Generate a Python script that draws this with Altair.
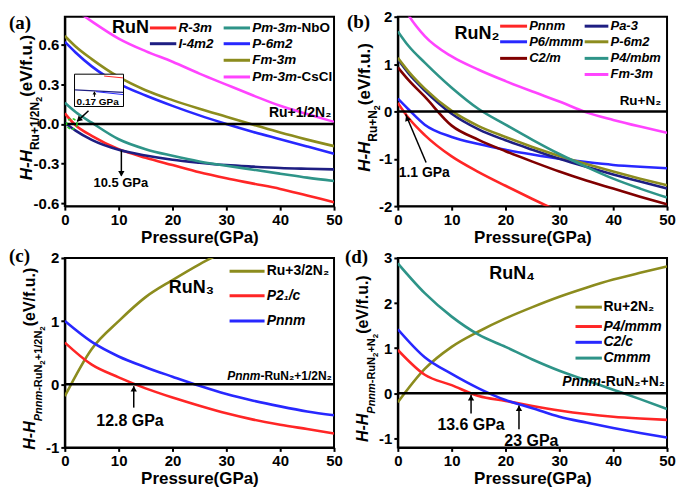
import altair as alt
import pandas as pd

FONT = "Liberation Sans"
SERIF = "Liberation Serif"
W, H = 270, 190
PXU = W / 50.0

RED = "#ff2626"
NAVY = "#1e1e82"
TEAL = "#2e9488"
BLUE = "#2828ff"
OLIVE = "#8c8c1e"
MAGENTA = "#ff44ff"
MAROON = "#800000"

# ---------------- data ----------------
pressure_ab = [0, 2, 5, 10, 15, 20, 25, 30, 35, 40, 45, 50]
pressure_cd = [0, 5, 10, 15, 20, 25, 30, 35, 40, 45, 50]

# (a) RuN
a_series = ["R-3m", "I-4m2", "Pm-3m-NbO", "P-6m2", "Fm-3m", "Pm-3m-CsCl"]
a_colors = [RED, NAVY, TEAL, BLUE, OLIVE, MAGENTA]
a_R3m = [0.08, -0.01, -0.09, -0.19, -0.255, -0.31, -0.365, -0.41, -0.45, -0.49, -0.54, -0.59]
a_I4m2 = [0.01, -0.05, -0.12, -0.195, -0.238, -0.27, -0.292, -0.31, -0.322, -0.332, -0.338, -0.343]
a_NbO = [0.16, 0.09, 0.01, -0.115, -0.19, -0.24, -0.283, -0.315, -0.345, -0.375, -0.405, -0.43]
a_P6m2 = [0.62, 0.54, 0.435, 0.305, 0.215, 0.137, 0.065, 0.0, -0.06, -0.115, -0.17, -0.225]
a_Fm3m = [0.665, 0.585, 0.49, 0.355, 0.255, 0.18, 0.115, 0.055, -0.005, -0.065, -0.118, -0.167]
a_CsCl = [0.92, 0.86, 0.775, 0.645, 0.55, 0.47, 0.38, 0.297, 0.215, 0.137, 0.075, 0.016]
a_values = [a_R3m, a_I4m2, a_NbO, a_P6m2, a_Fm3m, a_CsCl]

# (b) RuN2
b_series = ["Pnnm", "P6/mmm", "C2/m", "Pa-3", "P-6m2", "P4/mbm", "Fm-3m"]
b_colors = [RED, BLUE, MAROON, NAVY, OLIVE, TEAL, MAGENTA]
b_Pnnm = [0.18, -0.14, -0.5, -0.95, -1.28, -1.57, -1.85, -2.12, None, None, None, None]
b_P6mmm = [0.27, 0.04, -0.28, -0.54, -0.69, -0.81, -0.91, -1.0, -1.07, -1.13, -1.17, -1.2]
b_C2m = [0.93, 0.66, 0.31, -0.3, -0.6, -0.84, -1.06, -1.27, -1.46, -1.63, -1.8, -1.96]
b_Pa3 = [1.1, 0.8, 0.44, -0.05, -0.38, -0.61, -0.81, -1.0, -1.17, -1.33, -1.48, -1.63]
b_P6m2 = [1.13, 0.84, 0.48, 0.01, -0.31, -0.54, -0.75, -0.94, -1.11, -1.27, -1.42, -1.56]
b_P4mbm = [1.69, 1.38, 1.03, 0.5, 0.05, -0.28, -0.6, -0.9, -1.17, -1.42, -1.63, -1.82]
b_Fm3m = [2.45, 2.03, 1.59, 1.16, 0.88, 0.64, 0.42, 0.21, -0.02, -0.18, -0.32, -0.45]
b_values = [b_Pnnm, b_P6mmm, b_C2m, b_Pa3, b_P6m2, b_P4mbm, b_Fm3m]

# (c) RuN3
c_series = ["Ru+3/2N\u2082", "P2\u2081/c", "Pnnm"]
c_colors = [OLIVE, RED, BLUE]
c_Ru = [-0.19, 0.56, 1.0, 1.38, 1.65, 1.9, 2.12, None, None, None, None]
c_P21c = [0.66, 0.31, 0.11, -0.065, -0.21, -0.34, -0.46, -0.56, -0.64, -0.71, -0.78]
c_Pnnm = [1.0, 0.67, 0.44, 0.27, 0.12, -0.025, -0.155, -0.26, -0.35, -0.43, -0.49]
c_values = [c_Ru, c_P21c, c_Pnnm]

# (d) RuN4
d_series = ["Ru+2N\u2082", "P4/mmm", "C2/c", "Cmmm"]
d_colors = [OLIVE, RED, BLUE, TEAL]
d_Ru = [-0.2, 0.54, 1.03, 1.37, 1.66, 1.91, 2.14, 2.34, 2.52, 2.67, 2.81]
d_P4mmm = [0.96, 0.41, 0.18, -0.06, -0.17, -0.28, -0.38, -0.46, -0.52, -0.56, -0.59]
d_C2c = [1.42, 0.8, 0.43, 0.11, -0.15, -0.33, -0.52, -0.65, -0.77, -0.88, -0.98]
d_Cmmm = [2.88, 2.22, 1.7, 1.3, 1.03, 0.75, 0.5, 0.29, 0.08, -0.13, -0.35]
d_values = [d_Ru, d_P4mmm, d_C2c, d_Cmmm]

# legend label styling: (text, italic) parts
a_label_parts = [[("R-3m", True)], [("I-4m2", True)], [("Pm-3m", True), ("-NbO", False)],
                 [("P-6m2", True)], [("Fm-3m", True)], [("Pm-3m", True), ("-CsCl", False)]]
b_label_parts = [[(n, True)] for n in b_series]
c_label_parts = [[(c_series[0], False)], [(c_series[1], True)], [(c_series[2], True)]]
d_label_parts = [[(d_series[0], False)], [(d_series[1], True)], [(d_series[2], True)], [(d_series[3], True)]]

# ---------------- helpers ----------------
CW = {' ': .278, '(': .333, ')': .333, '+': .584, '-': .333, '.': .278, '/': .278,
      'C': .722, 'F': .611, 'G': .778, 'H': .722, 'I': .278, 'N': .722, 'O': .778, 'P': .667,
      'R': .722, 'V': .667, 'a': .556, 'b': .611, 'c': .556, 'e': .556, 'f': .333, 'l': .278,
      'm': .889, 'n': .611, 's': .556, 'u': .611,
      '\u2081': .42, '\u2082': .42, '\u2083': .42, '\u2084': .42}
for _d in "0123456789":
    CW[_d] = .556


def tw(s, size):
    return sum(CW.get(ch, .6) for ch in s) * size


def make_enc(ydom, yticks, yfmt):
    xs = alt.Scale(domain=[0, 50], nice=False, zero=False)
    ys = alt.Scale(domain=ydom, nice=False, zero=False)
    xa = alt.Axis(values=[0, 10, 20, 30, 40, 50], title="Pressure(GPa)", labelFlush=False, format="d")
    ya = alt.Axis(values=yticks, title=None, format=yfmt,
                  labelExpr="replace(datum.label, '\u2212', '-')")

    def X(f="P"):
        return alt.X(f, type="quantitative", scale=xs, axis=xa)

    def Y(f="v"):
        return alt.Y(f, type="quantitative", scale=ys, axis=ya)
    return X, Y


class Texts:
    def __init__(self):
        self.groups = {}

    def add(self, P, v, t, size, italic=False, align="left", baseline="middle", font=FONT):
        key = (size, italic, align, baseline, font)
        self.groups.setdefault(key, []).append({"P": P, "v": v, "t": t})

    def rich(self, P, v, parts, size, align="left", baseline="middle"):
        total = sum(tw(t, size) for t, _ in parts)
        start = P - {"left": 0, "center": total / 2, "right": total}[align] / PXU
        for t, it in parts:
            self.add(start, v, t, size, it, "left", baseline)
            start += tw(t, size) / PXU

    def layers(self, X, Y):
        out = []
        for (size, italic, align, baseline, font), rows in self.groups.items():
            out.append(alt.Chart(pd.DataFrame(rows)).mark_text(
                fontSize=size, fontStyle="italic" if italic else "normal", fontWeight="bold",
                font=font, align=align, baseline=baseline, color="black"
            ).encode(x=X(), y=Y(), text="t:N"))
        return out


DUMMY = pd.DataFrame({"d": [0]})


def ytitle(pieces, x_main, center_shift, main=17, sub=12, subsub=9):
    sizes = {0: main, 1: sub, 2: subsub}
    shifts = {0: 0, 1: 7, 2: 10}
    total = sum(tw(t, sizes[l]) for t, l, _ in pieces)
    y = H / 2 + center_shift + total / 2
    out = []
    for t, l, it in pieces:
        out.append(alt.Chart(DUMMY).mark_text(
            text=t, angle=270, align="left", baseline="alphabetic", font=FONT,
            fontSize=sizes[l], fontWeight="bold", fontStyle="italic" if it else "normal", color="black"
        ).encode(x=alt.value(x_main + shifts[l]), y=alt.value(y)))
        y -= tw(t, sizes[l])
    return out


def panel_label(t, x, y):
    return alt.Chart(DUMMY).mark_text(text=t, font=SERIF, fontSize=19, fontWeight="bold",
                                      align="left", baseline="alphabetic", color="black"
                                      ).encode(x=alt.value(x), y=alt.value(y))


def lines_layer(X, Y, P, names, colors, values):
    rows = []
    for n, c, vals in zip(names, colors, values):
        for p, v in zip(P, vals):
            if v is not None:
                rows.append({"P": p, "v": v, "s": n, "c": c})
    return alt.Chart(pd.DataFrame(rows)).mark_line(
        clip=True, strokeWidth=2.6, interpolate="monotone"
    ).encode(x=X(), y=Y(), color=alt.Color("c:N", scale=None), detail="s:N")


def zero_layer(Y):
    return alt.Chart(pd.DataFrame({"v": [0.0]})).mark_rule(color="black", strokeWidth=2.5).encode(y=Y())


def legend_lines(X, Y, entries):
    df = pd.DataFrame(entries, columns=["P", "P2", "v", "c"])
    return alt.Chart(df).mark_rule(strokeWidth=3).encode(
        x=X(), x2=alt.X2("P2:Q"), y=Y(), color=alt.Color("c:N", scale=None))


def seg(X, Y, p1, v1, p2, v2, color="black", width=1.5):
    df = pd.DataFrame({"P": [p1], "v": [v1], "P2": [p2], "v2": [v2]})
    return alt.Chart(df).mark_rule(color=color, strokeWidth=width).encode(
        x=X(), y=Y(), x2=alt.X2("P2:Q"), y2=alt.Y2("v2:Q"))


def head(X, Y, p, v, angle, size=45):
    df = pd.DataFrame({"P": [p], "v": [v]})
    return alt.Chart(df).mark_point(shape="triangle-up", filled=True, color="black", opacity=1,
                                    size=size, angle=angle).encode(x=X(), y=Y())


# ---------------- panel (a) ----------------
Xa, Ya = make_enc([-0.62, 0.81], [-0.6, -0.3, 0.0, 0.3, 0.6], ".1f")
ta = Texts()
a_rows = [0.725, 0.606, 0.481, 0.355]
a_slots = [(0, 0), (0, 1), (1, 0), (1, 1), (1, 2), (1, 3)]
a_cols = [(15.8, 20.7, 21.1), (29.5, 34.4, 34.8)]
a_leg = []
for (col, row), c, parts in zip(a_slots, a_colors, a_label_parts):
    x1, x2, xl = a_cols[col]
    a_leg.append((x1, x2, a_rows[row], c))
    ta.rich(xl, a_rows[row], parts, 13.5)
ta.add(12.2, 0.725, "RuN", 18, align="center")
ta.add(49.5, 0.05, "Ru+1/2N\u2082", 14, align="right", baseline="alphabetic")
ta.add(10.4, -0.445, "10.5 GPa", 13, align="center")
ta.add(6.1, 0.165, "0.17 GPa", 10, align="center")

inset = alt.Chart(pd.DataFrame({"P": [1.8], "P2": [10.9], "v": [0.132], "v2": [0.376]})).mark_rect(
    fill="white", stroke="black", strokeWidth=1).encode(x=Xa(), x2=alt.X2("P2:Q"), y=Ya(), y2=alt.Y2("v2:Q"))
circle = alt.Chart(pd.DataFrame({"P": [1.3], "v": [0.0]})).mark_point(
    shape="circle", filled=False, color="#22cc22", strokeWidth=1.5, strokeDash=[3, 2], size=110, opacity=1
).encode(x=Xa(), y=Ya())

pa_layers = [lines_layer(Xa, Ya, pressure_ab, a_series, a_colors, a_values), zero_layer(Ya),
             legend_lines(Xa, Ya, a_leg),
             inset,
             seg(Xa, Ya, 7.3, 0.362, 10.8, 0.348, RED, 1),
             seg(Xa, Ya, 1.9, 0.258, 10.8, 0.238, NAVY, 1.2),
             seg(Xa, Ya, 5.8, 0.244, 10.8, 0.222, BLUE, 1),
             seg(Xa, Ya, 5.5, 0.205, 5.5, 0.238, "black", 1),
             head(Xa, Ya, 5.5, 0.235, 0, 14),
             seg(Xa, Ya, 4.4, 0.1, 2.3, 0.02, "black", 1.5),
             head(Xa, Ya, 2.6, 0.032, 227, 40),
             circle,
             seg(Xa, Ya, 10.5, -0.2, 10.5, -0.39, "black", 1.5),
             head(Xa, Ya, 10.5, -0.375, 180, 40)]
pa_layers += ta.layers(Xa, Ya)
pa_layers += ytitle([("H-H", 0, True), ("Ru+1/2N", 1, False), ("2", 2, False), ("(eV/f.u.)", 0, False)], -33, -4)
pa_layers.append(panel_label("(a)", -56, 12))
pa = alt.layer(*pa_layers).properties(width=W, height=H)

# ---------------- panel (b) ----------------
Xb, Yb = make_enc([-2, 2], [-2, -1, 0, 1, 2], "d")
tb = Texts()
b_rows = [1.80, 1.47, 1.12, 0.78]
b_slots = [(0, 0), (0, 1), (0, 2), (1, 0), (1, 1), (1, 2), (1, 3)]
b_cols = [(19.0, 24.0, 24.4), (34.7, 39.1, 39.5)]
b_leg = []
for (col, row), c, parts in zip(b_slots, b_colors, b_label_parts):
    x1, x2, xl = b_cols[col]
    b_leg.append((x1, x2, b_rows[row], c))
    tb.rich(xl, b_rows[row], parts, 13)
tb.add(14.7, 1.63, "RuN\u2082", 18, align="center")
tb.add(48.9, 0.14, "Ru+N\u2082", 13.5, align="right", baseline="alphabetic")
tb.add(4.9, -1.31, "1.1 GPa", 14, align="center")
pb_layers = [lines_layer(Xb, Yb, pressure_ab, b_series, b_colors, b_values), zero_layer(Yb),
             legend_lines(Xb, Yb, b_leg),
             seg(Xb, Yb, 5.25, -1.08, 1.45, -0.06, "black", 1.5),
             head(Xb, Yb, 1.72, -0.14, 338, 40)]
pb_layers += tb.layers(Xb, Yb)
pb_layers += ytitle([("H-H", 0, True), ("Ru+N", 1, False), ("2", 2, False), ("(eV/f.u.)", 0, False)], -28, -4)
pb_layers.append(panel_label("(b)", -51, 11))
pb = alt.layer(*pb_layers).properties(width=W, height=H)

# ---------------- panel (c) ----------------
Xc, Yc = make_enc([-1, 2], [-1, 0, 1, 2], "d")
tc = Texts()
c_rows = [1.79, 1.40, 1.00]
c_leg = []
for row, c, parts in zip(c_rows, c_colors, c_label_parts):
    c_leg.append((30.6, 37.1, row, c))
    tc.rich(37.5, row, parts, 14)
tc.add(23.5, 1.52, "RuN\u2083", 18, align="center")
tc.rich(49.5, 0.06, [("Pnnm", True), ("-RuN\u2082+1/2N\u2082", False)], 12, align="right", baseline="alphabetic")
tc.add(12.1, -0.58, "12.8 GPa", 16, align="center")
pc_layers = [lines_layer(Xc, Yc, pressure_cd, c_series, c_colors, c_values), zero_layer(Yc),
             legend_lines(Xc, Yc, c_leg),
             seg(Xc, Yc, 12.8, -0.37, 12.8, -0.03, "black", 1.5),
             head(Xc, Yc, 12.8, -0.07, 0, 40)]
pc_layers += tc.layers(Xc, Yc)
pc_layers += ytitle([("H-H", 0, True), ("Pnnm", 1, True), ("-RuN", 1, False), ("2", 2, False),
                     ("+1/2N", 1, False), ("2", 2, False), ("(eV/f.u.)", 0, False)], -30, 6, 16, 11, 8)
pc_layers.append(panel_label("(c)", -56, 4))
pc = alt.layer(*pc_layers).properties(width=W, height=H)

# ---------------- panel (d) ----------------
Xd, Yd = make_enc([-1.2, 3], [-1, 0, 1, 2, 3], "d")
td = Texts()
d_rows = [1.91, 1.48, 1.13, 0.78]
d_leg = []
for row, c, parts in zip(d_rows, d_colors, d_label_parts):
    d_leg.append((33.0, 37.9, row, c))
    td.rich(38.2, row, parts, 14)
td.add(21.2, 2.64, "RuN\u2084", 18, align="center")
td.rich(49.5, 0.16, [("Pnnm", True), ("-RuN\u2082+N\u2082", False)], 14, align="right", baseline="alphabetic")
td.add(13.6, -0.7, "13.6 GPa", 16, align="center")
td.add(24.8, -1.05, "23 GPa", 16, align="center")
pd_layers = [lines_layer(Xd, Yd, pressure_cd, d_series, d_colors, d_values), zero_layer(Yd),
             legend_lines(Xd, Yd, d_leg),
             seg(Xd, Yd, 13.6, -0.45, 13.6, -0.04, "black", 1.5),
             head(Xd, Yd, 13.6, -0.1, 0, 40),
             seg(Xd, Yd, 22.5, -0.8, 22.5, -0.27, "black", 1.5),
             head(Xd, Yd, 22.5, -0.33, 0, 40)]
pd_layers += td.layers(Xd, Yd)
pd_layers += ytitle([("H-H", 0, True), ("Pnnm", 1, True), ("-RuN", 1, False), ("2", 2, False),
                     ("+N", 1, False), ("2", 2, False), ("(eV/f.u.)", 0, False)], -30, 6, 16, 11, 8)
pd_layers.append(panel_label("(d)", -53, 5))
pdd = alt.layer(*pd_layers).properties(width=W, height=H)

chart = alt.concat(pa, pb, pc, pdd, columns=2, spacing={"row": 52, "column": 64},
                   bounds="flush", padding=0).configure_view(
    stroke="black", strokeWidth=2
).configure_axis(
    domainColor="black", domainWidth=2, tickColor="black", tickWidth=2, tickSize=4,
    labelFont=FONT, labelFontSize=15, labelFontWeight="bold", labelColor="black", labelPadding=2,
    titleFont=FONT, titleFontSize=17, titleFontWeight="bold", titleColor="black", titlePadding=2,
    grid=False
)

chart.save("out.html", embed_options={"renderer": "svg", "actions": False})
